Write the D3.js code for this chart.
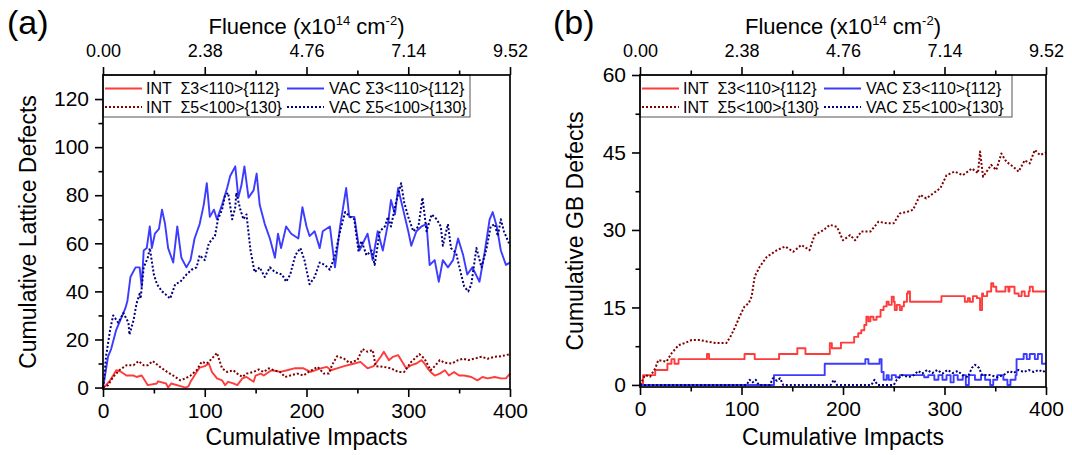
<!DOCTYPE html>
<html><head><meta charset="utf-8">
<script src="https://cdn.jsdelivr.net/npm/d3@7"></script>
<style>body{margin:0;background:#fff} svg{display:block} text{font-family:"Liberation Sans",Arial,sans-serif;fill:#000}</style>
</head><body><svg id="c" width="1072" height="455"></svg>
<script>
// ---------- axis ticks ----------
const impactTicks=[0,100,200,300,400];
const impactMinor=[50,150,250,350];
const fluenceTicks=[0,2.38,4.76,7.14,9.52];
const fluenceLabels=["0.00","2.38","4.76","7.14","9.52"];
const fluenceMinor=[1.19,3.57,5.95,8.33];
const latticeTicks=[0,20,40,60,80,100,120];
const latticeMinor=[10,30,50,70,90,110];
const gbTicks=[0,15,30,45,60];
const gbMinor=[7.5,22.5,37.5,52.5];
const seriesNames=["INT  Σ3<110>{112}","VAC Σ3<110>{112}","INT  Σ5<100>{130}","VAC Σ5<100>{130}"];

// ---------- panel (a): cumulative lattice defects [impacts, defects] ----------
const aIntS3=[[0,0],[2,0.5],[7,3],[10,5],[13,7.2],[18,6.5],[23,5],[30,5],[33,4.4],[38,5],[41,3],[44,1],[53,1.7],[54,2.6],[62,1.7],[64,0],[67,1.7],[77,0.5],[81,0],[84,0.5],[86,2.4],[89,4.4],[92,6.5],[95,8.3],[100,8.9],[104,10],[107,6.5],[112,3.8],[117,3],[120,1],[123,2.4],[128,1.7],[132,1],[137,3.8],[141,4.4],[148,2.4],[150,5],[155,5.8],[158,5],[163,6.5],[166,7.2],[174,6.5],[181,7.2],[188,8],[197,8],[204,6.5],[214,8],[220,8.6],[224,7.2],[230,8],[237,8.9],[247,10],[253,10.7],[260,8],[266,8.9],[273,12.8],[276,14.9],[281,11.4],[285,12.8],[290,13.5],[294,10.7],[298,8],[303,9.3],[308,10],[313,11.4],[316,10],[319,8],[322,6.5],[326,5],[331,5.8],[336,7.2],[340,5],[345,6.5],[350,5],[355,5],[362,4.4],[368,3],[373,4.4],[378,3.8],[385,4.4],[391,3.8],[396,3.8],[400,5.8]];
const aVacS3=[[0,0],[2,5],[5,13],[8,16],[13,24],[18,29],[22,33],[24,36],[27,46],[32,50],[36,50],[38,42],[40,57],[43,58],[46,67],[48,58],[51,64],[55,66],[58,74],[61,68],[64,58],[69,52],[73,67],[77,54],[82,50],[86,53],[90,62],[95,68],[99,76],[102,85],[105,71],[109,74],[112,70],[117,76],[122,83],[125,88],[130,92],[133,79],[136,84],[139,92],[143,79],[148,82],[151,89],[154,76],[159,68],[164,62],[169,54],[172,64],[175,58],[180,67],[185,64],[192,62],[196,75],[200,67],[203,63],[208,65],[213,58],[216,65],[223,67],[228,50],[233,67],[239,83],[242,71],[247,71],[252,57],[260,64],[265,53],[270,65],[275,57],[280,68],[283,78],[287,72],[290,83],[295,74],[300,65],[303,59],[308,65],[313,67],[318,68],[321,51],[326,53],[330,44],[334,53],[339,50],[344,53],[349,62],[354,55],[358,47],[363,50],[370,44],[375,56],[380,70],[383,73],[387,67],[391,57],[396,51],[400,52]];
const aIntS5=[[0,0],[5,1],[10,4.4],[16,7.2],[23,9.3],[30,9.3],[35,11],[40,9.3],[44,9.3],[49,11],[56,8.6],[63,6.5],[69,5],[76,3],[81,3.8],[86,5],[92,7.2],[97,10.7],[102,10],[107,12],[112,14.4],[117,8],[122,6.5],[128,7.2],[132,5.8],[137,4.4],[141,5.8],[148,6.5],[153,7.5],[158,6.5],[163,8],[168,7.2],[174,6.5],[179,4.4],[184,5],[191,5.8],[197,5],[202,6.5],[211,8.6],[217,5.8],[222,5.8],[225,9.3],[230,13],[237,12],[242,10.3],[250,11.4],[255,16],[260,14.9],[265,15.6],[268,8.9],[276,8.6],[283,8],[290,6.5],[296,6.5],[303,10.7],[311,13.9],[316,12],[322,7.2],[327,9.3],[331,11.4],[336,10.3],[343,10],[349,11.4],[354,12],[359,11.4],[365,12],[372,12.8],[378,12],[385,12.8],[391,13],[400,13.9]];
const aVacS5=[[0,0],[1,3],[3,13],[7,24],[10,30],[15,27],[20,31],[25,27],[26,22],[30,28],[33,35],[36,39],[37,37],[40,50],[44,54],[46,58],[50,47],[53,43],[58,40],[61,39],[66,37],[71,43],[76,44],[82,47],[87,49],[92,50],[95,55],[100,53],[104,60],[110,63],[113,70],[117,74],[120,80],[123,81],[127,70],[130,75],[131,81],[135,74],[138,70],[141,72],[145,57],[149,48],[154,50],[159,46],[164,50],[169,48],[176,47],[180,44],[184,47],[189,55],[194,58],[198,53],[203,43],[208,46],[213,52],[218,51],[223,49],[228,55],[233,65],[238,73],[243,71],[247,70],[251,57],[254,61],[259,55],[264,57],[267,51],[272,65],[277,67],[280,71],[283,67],[288,77],[293,85],[296,77],[300,71],[305,65],[310,67],[314,79],[318,65],[323,72],[328,70],[332,67],[334,59],[339,68],[342,58],[347,56],[352,47],[355,42],[359,40],[362,43],[367,58],[372,50],[377,58],[381,67],[385,68],[388,63],[391,70],[394,65],[400,59]];

// ---------- panel (b): cumulative GB defects [impacts, defects] ----------
const bIntS3=[[0,0.3],[3,1.9],[15,2.9],[27,4.1],[31,5.0],[34,4.1],[38,5.0],[66,6.0],[68,5.0],[103,6.0],[113,5.0],[137,6.0],[155,7.1],[163,6.0],[187,8.1],[189,7.1],[198,8.2],[211,9.3],[215,10.0],[218,10.6],[221,11.6],[223,13.2],[225,12.3],[227,13.2],[230,12.6],[233,13.2],[237,14.5],[240,15.2],[243,16.1],[245,15.5],[248,17.1],[250,16.1],[251,14.5],[253,15.5],[256,14.5],[258,15.2],[260,16.1],[263,17.7],[264,18.1],[266,16.1],[297,17.2],[320,16.1],[323,16.8],[325,16.1],[328,17.2],[332,16.8],[335,14.5],[337,17.7],[338,17.2],[342,18.1],[346,19.7],[348,19.0],[351,18.1],[360,19.0],[363,18.1],[364,19.0],[369,17.7],[373,17.2],[376,18.1],[379,17.2],[383,18.1],[384,19.0],[387,18.1],[400,18.1]];
const bVacS3=[[0,0],[132,1.9],[182,4.1],[222,5.0],[225,4.1],[236,5.0],[238,2.5],[240,1.0],[243,1.9],[245,1.0],[248,1.9],[252,1.5],[256,1.9],[280,1.5],[284,1.9],[290,1.0],[294,1.9],[298,1.0],[302,1.9],[306,0.5],[309,1.9],[313,1.0],[318,1.9],[321,0],[324,1.9],[330,1.0],[336,1.9],[340,1.0],[345,0],[348,1.0],[352,1.9],[358,1.0],[362,0],[365,1.0],[370,1.9],[371,5.0],[378,6.0],[381,5.0],[384,6.0],[389,5.0],[392,6.0],[396,4.1],[400,4.1]];
const bIntS5=[[0,0],[5,1.9],[10,1.6],[15,3.2],[18,4.8],[26,4.5],[31,6.1],[38,7.7],[44,8.1],[51,8.7],[59,8.7],[66,8.4],[75,8.1],[85,8.1],[89,9.3],[94,11.3],[98,13.2],[103,15.2],[107,15.8],[110,17.1],[113,21],[118,22.9],[125,24.8],[135,26.1],[143,26.8],[151,25.8],[159,27.1],[167,26.1],[172,29],[181,30],[187,31],[194,30.6],[200,28],[207,29],[212,28],[218,29.7],[227,29.7],[235,31.6],[243,31.3],[250,31.3],[256,33.2],[263,33.5],[269,33.9],[276,36.8],[282,36.1],[289,37.1],[296,38.1],[302,40.6],[310,41.3],[318,40.6],[327,41.9],[333,41],[335,45.2],[338,40.3],[346,42.6],[351,41.6],[356,44.8],[361,43.2],[368,42.2],[373,41.3],[379,43.5],[384,42.9],[389,45.5],[394,44.5],[400,45]];
const bVacS5=[[0,0],[105,0],[108,1],[111,0.5],[114,1],[117,0],[128,0],[131,1.3],[135,0.8],[138,1.3],[141,0],[188,0],[191,1],[194,0],[228,0],[231,1],[234,0],[250,0],[253,1],[258,1.9],[265,1.5],[270,1.9],[274,2.7],[278,2.2],[283,2.9],[288,2.3],[293,2.9],[298,2.2],[303,2.9],[308,2.3],[313,2.7],[318,1.9],[323,1.5],[327,3.3],[330,3.9],[334,3.3],[337,1.9],[345,1.9],[352,1.5],[358,1.9],[364,2.7],[368,2.3],[373,2.9],[378,2.5],[383,2.9],[388,2.5],[393,2.9],[397,2.5],[400,2.9]];

// ---------- styles ----------
const styles=[
  {color:"#ff3c3c",dash:null,w:1.9},
  {color:"#3c3cff",dash:null,w:1.9},
  {color:"#800000",dash:"2,2",w:2},
  {color:"#000080",dash:"2,2",w:2}
];
const FONT='"Liberation Sans",Arial,sans-serif';
const svg=d3.select("#c");

function panel(cfg){
  const g=svg.append("g");
  const x=d3.scaleLinear().domain([0,400]).range([cfg.x0,cfg.x1]);
  const xf=d3.scaleLinear().domain([0,9.52]).range([cfg.x0,cfg.x1]);
  const y=d3.scaleLinear().domain(cfg.yDomain).range([cfg.yBot,cfg.yTop]);

  // series
  cfg.data.forEach((d,i)=>{
    const st=styles[i];
    const line=d3.line().x(p=>x(p[0])).y(p=>y(p[1])).curve(cfg.steps[i]?d3.curveStepAfter:d3.curveLinear);
    g.append("path").datum(d).attr("d",line).attr("fill","none")
      .attr("stroke",st.color).attr("stroke-width",st.w)
      .attr("stroke-dasharray",st.dash).attr("stroke-linejoin","round");
  });

  // legend
  const L=g.append("g");
  L.append("rect").attr("x",cfg.x0).attr("y",cfg.yTop).attr("width",cfg.legendW).attr("height",42)
    .attr("fill","#fff").attr("stroke","#555").attr("stroke-width",1);
  const items=[{i:0,dx:0,row:0},{i:1,dx:182,row:0},{i:2,dx:0,row:1},{i:3,dx:182,row:1}];
  items.forEach(it=>{
    const st=styles[it.i];
    const ly=cfg.yTop+13.5+it.row*18.5;
    L.append("line").attr("x1",cfg.x0+2+it.dx).attr("x2",cfg.x0+39+it.dx).attr("y1",ly).attr("y2",ly)
      .attr("stroke",st.color).attr("stroke-width",st.w).attr("stroke-dasharray",st.dash);
    L.append("text").attr("x",cfg.x0+(it.i%2===0?43:226)).attr("y",ly+5.6)
      .attr("font-size",16).style("white-space","pre").text(seriesNames[it.i]);
  });

  // frame
  g.append("rect").attr("x",cfg.x0).attr("y",cfg.yTop).attr("width",cfg.x1-cfg.x0).attr("height",cfg.yBot-cfg.yTop)
    .attr("fill","none").attr("stroke","#000").attr("stroke-width",1.7);

  function styleAxis(sel,fs){
    sel.select(".domain").remove();
    sel.selectAll(".tick line").attr("stroke","#000").attr("stroke-width",1.6);
    sel.selectAll("text").attr("font-size",fs).attr("font-family",FONT).attr("fill","#000");
  }
  // bottom axis
  g.append("g").attr("transform",`translate(0,${cfg.yBot})`)
    .call(d3.axisBottom(x).tickValues(impactTicks).tickSize(8).tickPadding(6).tickFormat(d3.format("d")))
    .call(s=>styleAxis(s,21));
  g.append("g").attr("transform",`translate(0,${cfg.yBot})`)
    .call(d3.axisBottom(x).tickValues(impactMinor).tickSize(4.5).tickFormat(""))
    .call(s=>styleAxis(s,21));
  // top axis
  g.append("g").attr("transform",`translate(0,${cfg.yTop})`)
    .call(d3.axisTop(xf).tickValues(fluenceTicks).tickSize(8).tickPadding(10).tickFormat((d,i)=>fluenceLabels[i]))
    .call(s=>styleAxis(s,18));
  g.append("g").attr("transform",`translate(0,${cfg.yTop})`)
    .call(d3.axisTop(xf).tickValues(fluenceMinor).tickSize(4.5).tickFormat(""))
    .call(s=>styleAxis(s,18));
  // left axis
  g.append("g").attr("transform",`translate(${cfg.x0},0)`)
    .call(d3.axisLeft(y).tickValues(cfg.yTicks).tickSize(8).tickPadding(6).tickFormat(d3.format("d")))
    .call(s=>styleAxis(s,21));
  g.append("g").attr("transform",`translate(${cfg.x0},0)`)
    .call(d3.axisLeft(y).tickValues(cfg.yMinor).tickSize(4.5).tickFormat(""))
    .call(s=>styleAxis(s,21));

  // titles
  const cx=(cfg.x0+cfg.x1)/2;
  g.append("text").attr("x",cx).attr("y",445).attr("text-anchor","middle").attr("font-size",23).text("Cumulative Impacts");
  const ft=g.append("text").attr("x",cx).attr("y",34).attr("text-anchor","middle").attr("font-size",22);
  ft.append("tspan").text("Fluence (x10");
  ft.append("tspan").attr("font-size",13).attr("dy",-9).text("14");
  ft.append("tspan").attr("dy",9).text(" cm");
  ft.append("tspan").attr("font-size",13).attr("dy",-9).text("-2");
  ft.append("tspan").attr("dy",9).text(")");
  const cy=(cfg.yTop+cfg.yBot)/2;
  g.append("text").attr("transform",`translate(${cfg.titleX},${cy}) rotate(-90)`).attr("text-anchor","middle")
    .attr("font-size",23).text(cfg.title);
  g.append("text").attr("x",cfg.labelX).attr("y",34).attr("font-size",34).text(cfg.label);
}

panel({x0:103,x1:510,yTop:75,yBot:389,yDomain:[-0.6,130],yTicks:latticeTicks,yMinor:latticeMinor,
  data:[aIntS3,aVacS3,aIntS5,aVacS5],steps:[false,false,false,false],
  title:"Cumulative Lattice Defects",titleX:36,label:"(a)",labelX:7,legendW:367});
panel({x0:640,x1:1046,yTop:75,yBot:387,yDomain:[-0.4,60],yTicks:gbTicks,yMinor:gbMinor,
  data:[bIntS3,bVacS3,bIntS5,bVacS5],steps:[true,true,false,false],
  title:"Cumulative GB Defects",titleX:583,label:"(b)",labelX:553,legendW:372});
</script></body></html>
